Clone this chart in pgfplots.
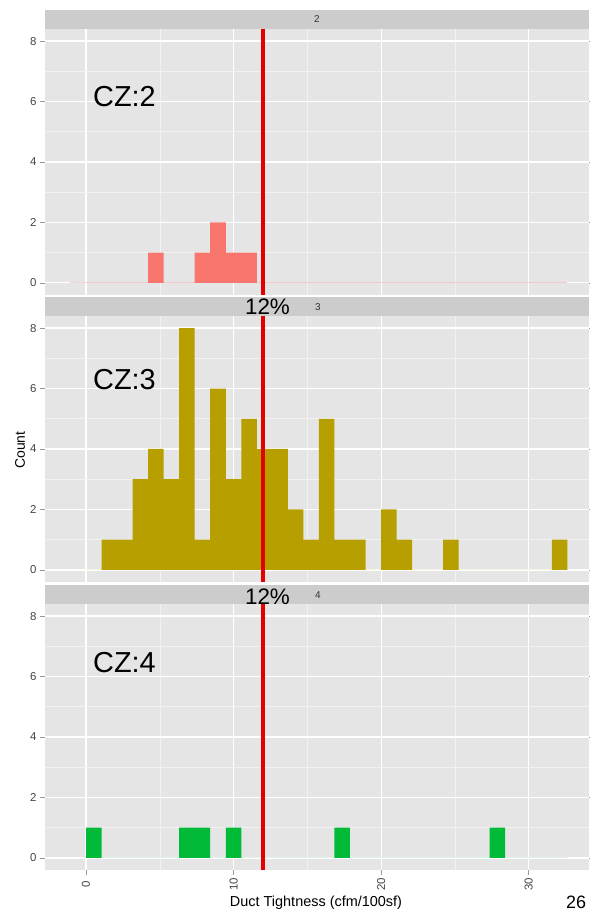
\documentclass[border=0pt]{standalone}
\usepackage{pgfplots}
\pgfplotsset{compat=1.18}
\usepackage{pgfplotstable}
\usepackage{fontspec}
\setmainfont{Liberation Sans}

\definecolor{panelbg}{HTML}{E5E5E5}
\definecolor{stripbg}{HTML}{CCCCCC}
\definecolor{minorgrid}{HTML}{F2F2F2}
\definecolor{czA}{HTML}{F8766D}
\definecolor{czB}{HTML}{B79F00}
\definecolor{czC}{HTML}{00BA38}
\definecolor{redline}{HTML}{E50000}
\definecolor{ticktext}{HTML}{444444}
\definecolor{zeropink}{HTML}{F2D6D6}

% bin start (cfm/100sf), counts per climate zone
\pgfplotstableread{
x      cztwo czthree czfour
0.000  0 0 1
1.052  0 1 0
2.104  0 1 0
3.156  0 3 0
4.208  1 4 0
5.260  0 3 0
6.312  0 8 1
7.364  1 1 1
8.416  2 6 0
9.468  1 3 1
10.520 1 5 0
11.572 0 4 0
12.624 0 4 0
13.676 0 2 0
14.728 0 1 0
15.780 0 5 0
16.832 0 1 1
17.884 0 1 0
18.936 0 0 0
19.988 0 2 0
21.040 0 1 0
22.092 0 0 0
23.144 0 0 0
24.196 0 1 0
25.248 0 0 0
26.300 0 0 0
27.352 0 0 1
28.404 0 0 0
29.456 0 0 0
30.508 0 0 0
31.560 0 1 0
32.612 0 0 0
}\hist

\pgfplotsset{
  panel/.style={
    scale only axis, width=544bp, height=266bp, anchor=south west,
    xmin=-2.78, xmax=34.08, ymin=-0.4, ymax=8.4,
    axis background/.style={fill=panelbg},
    axis line style={draw=none},
    xtick={0,10,20,30}, ytick={0,2,4,6,8},
    minor tick num=1,
    grid=both,
    major grid style={white, line width=1.2bp},
    minor grid style={minorgrid, line width=0.6bp},
    tick align=outside, major tick length=5bp, minor tick length=0pt,
    tick style={color=gray!80, line width=0.6bp},
    ticklabel style={font=\fontsize{11.5}{12}\selectfont, text=ticktext},
    /pgf/number format/assume math mode=true,
  },
}

\begin{document}
\begin{tikzpicture}[x=1bp, y=1bp]
\useasboundingbox (0,0) rectangle (590,913);

% panel CZ 2
\begin{axis}[panel, at={(45bp,618bp)}, xmajorticks=false]
\addplot[color=zeropink, line width=1bp] coordinates {(-1.1,0) (32.6,0)};
\addplot[ybar interval, fill=czA, draw=none] table[x=x, y=cztwo] {\hist};
\addplot[redline, line width=4bp] coordinates {(12,-0.4) (12,8.4)};
\end{axis}

% panel CZ 3
\begin{axis}[panel, at={(45bp,331bp)}, xmajorticks=false]
\addplot[ybar interval, fill=czB, draw=none] table[x=x, y=czthree] {\hist};
\addplot[redline, line width=4bp] coordinates {(12,-0.4) (12,8.4)};
\end{axis}

% panel CZ 4
\begin{axis}[panel, at={(45bp,43bp)},
  xticklabel style={rotate=90, anchor=center}, xticklabel shift=9bp]
\addplot[ybar interval, fill=czC, draw=none] table[x=x, y=czfour] {\hist};
\addplot[redline, line width=4bp] coordinates {(12,-0.4) (12,8.4)};
\end{axis}

% facet strips
\fill[stripbg] (45,884) rectangle (589,903);
\fill[stripbg] (45,597) rectangle (589,616);
\fill[stripbg] (45,309) rectangle (589,328);
\node[font=\fontsize{10}{11}\selectfont, text=black!80] at (317,893.5) {2};
\node[font=\fontsize{10}{11}\selectfont, text=black!80] at (318,606) {3};
\node[font=\fontsize{10}{11}\selectfont, text=black!80] at (318,317.5) {4};

% annotations
\node[anchor=base, inner sep=0pt, font=\fontsize{22.5}{24}\selectfont] at (267.5,598) {12\%};
\node[anchor=base, inner sep=0pt, font=\fontsize{22.5}{24}\selectfont] at (267.5,308) {12\%};
\node[anchor=base west, inner sep=0pt, font=\fontsize{29}{30}\selectfont] at (93,806) {CZ:2};
\node[anchor=base west, inner sep=0pt, font=\fontsize{29}{30}\selectfont] at (93,523) {CZ:3};
\node[anchor=base west, inner sep=0pt, font=\fontsize{29}{30}\selectfont] at (93,240.5) {CZ:4};

% axis titles
\node[rotate=90, font=\fontsize{14}{15}\selectfont] at (20,463) {Count};
\node[anchor=base, inner sep=0pt, font=\fontsize{14.5}{15}\selectfont] at (316,6) {Duct Tightness (cfm/100sf)};
\node[anchor=base west, inner sep=0pt, font=\fontsize{18}{19}\selectfont] at (566,4) {26};
\end{tikzpicture}
\end{document}
